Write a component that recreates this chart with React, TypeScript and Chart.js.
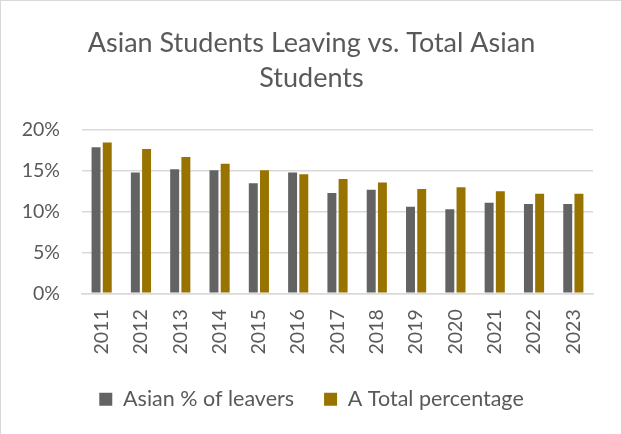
import React, { useEffect, useRef } from "react";
import { Chart, registerables } from "chart.js";

Chart.register(...registerables);

const years = ["2011","2012","2013","2014","2015","2016","2017","2018","2019","2020","2021","2022","2023"];
const asianLeavers = [17.9, 14.8, 15.2, 15.1, 13.5, 14.8, 12.3, 12.7, 10.6, 10.3, 11.1, 10.95, 10.95];
const totalPercentage = [18.5, 17.7, 16.7, 15.9, 15.1, 14.6, 14.0, 13.6, 12.8, 13.0, 12.5, 12.2, 12.2];
const titleLines = ["Asian Students Leaving vs. Total Asian", "Students"];
const seriesNames = ["Asian % of leavers", "A Total percentage"];

const FONT = "Lato, 'Open Sans', sans-serif";
const TEXT = "#595959";

export default function App() {
  const ref = useRef<HTMLCanvasElement | null>(null);
  useEffect(() => {
    document.body.style.margin = "0";
    const chart = new Chart(ref.current as HTMLCanvasElement, {
      type: "bar",
      data: {
        labels: years,
        datasets: [
          { label: seriesNames[0], data: asianLeavers, backgroundColor: "#636363", categoryPercentage: 0.57, barPercentage: 0.8 },
          { label: seriesNames[1], data: totalPercentage, backgroundColor: "#997300", categoryPercentage: 0.57, barPercentage: 0.8 },
        ],
      },
      options: {
        animation: false,
        responsive: false,
        maintainAspectRatio: false,
        layout: { padding: { left: 18, right: 16, top: 0, bottom: 14 } },
        plugins: {
          title: {
            display: true,
            text: titleLines,
            color: TEXT,
            font: { family: FONT, size: 27, weight: "normal", lineHeight: 1.3 },
            padding: { top: 26, bottom: 34 },
          },
          legend: {
            position: "bottom",
            labels: {
              color: TEXT,
              font: { family: FONT, size: 21.5 },
              boxWidth: 13,
              boxHeight: 13,
              padding: 30,
            },
          },
          tooltip: { enabled: false },
        },
        scales: {
          y: {
            min: 0,
            max: 20,
            ticks: {
              stepSize: 5,
              color: TEXT,
              font: { family: FONT, size: 19.5 },
              padding: 22,
              callback: (v: any) => v + "%",
            },
            grid: { color: "#d9d9d9", lineWidth: 1.5, drawTicks: false },
            border: { display: false },
            afterFit: (scale: any) => { scale.width = 64; },
          },
          y2: {
            type: "linear",
            position: "right",
            display: true,
            ticks: { display: false },
            grid: { display: false, drawTicks: false },
            border: { display: false },
            afterFit: (scale: any) => { scale.width = 12; },
          },
          x: {
            ticks: {
              color: TEXT,
              font: { family: FONT, size: 19.5 },
              maxRotation: 90,
              minRotation: 90,
              padding: 16,
            },
            grid: { display: false, drawTicks: false },
            border: { display: true, color: "#d9d9d9", width: 1.5 },
            afterFit: (scale: any) => {
              scale.height -= 12;
              scale.paddingLeft = 0;
              scale.paddingRight = 0;
            },
          },
        },
      },
    });
    return () => chart.destroy();
  }, []);
  return (
    <div style={{ width: 621, height: 434, position: "relative", overflow: "hidden" }}>
      <canvas ref={ref} width={621} height={434} style={{ display: "block" }} />
      <div style={{ position: "absolute", left: 0, top: 0, width: 640, height: 460, boxSizing: "border-box", border: "1.5px solid #d9d9d9", pointerEvents: "none" }} />
    </div>
  );
}
